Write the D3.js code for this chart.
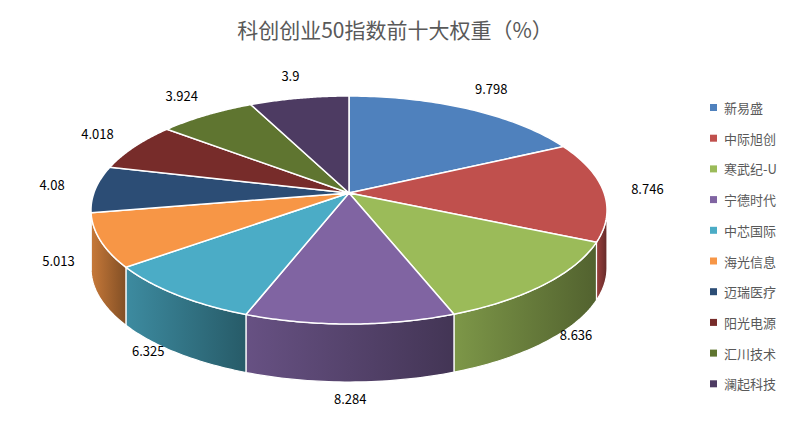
<!DOCTYPE html><html><head><meta charset="utf-8">
<script src="https://cdn.jsdelivr.net/npm/d3@7"></script>
<style>body{margin:0;background:#fff}</style></head><body>
<svg id="c" width="800" height="428"></svg>
<script>
const categories=["新易盛","中际旭创","寒武纪-U","宁德时代","中芯国际","海光信息","迈瑞医疗","阳光电源","汇川技术","澜起科技"];
const values=[9.798,8.746,8.636,8.284,6.325,5.013,4.08,4.018,3.924,3.9];
const labels=["9.798","8.746","8.636","8.284","6.325","5.013","4.08","4.018","3.924","3.9"];
const colors=["#4F81BD","#C0504D","#9BBB59","#8064A2","#4BACC6","#F79646","#2C4D75","#772C2A","#5F7530","#4D3B62"];
const svg=d3.select("#c");
const F="'Noto Sans CJK SC','Noto Sans',sans-serif";
svg.append("text").attr("x",395).attr("y",38).attr("text-anchor","middle").attr("font-family",F).attr("font-size",21).attr("fill","#595959").text("科创创业50指数前十大权重（%）");
const cx=349,rx=258,ry=114,depth=58;
const top0=210;
const arcs=d3.pie().sort(null)(values);
const P=(a,y0)=>[cx+rx*Math.sin(a),y0-ry*Math.cos(a)];
const defs=svg.append("defs");
arcs.forEach((d,i)=>{
  const g=defs.append("linearGradient").attr("id","g"+i).attr("x1",0).attr("x2",1).attr("y1",0).attr("y2",0);
  const c=d3.color(colors[i]);
  g.append("stop").attr("offset","0%").attr("stop-color",c.darker(0.6));
  g.append("stop").attr("offset","100%").attr("stop-color",c.darker(1.8));
});
const gS=svg.append("g"),gT=svg.append("g");
arcs.forEach((d,i)=>{
  const a0=Math.max(d.startAngle,Math.PI/2),a1=Math.min(d.endAngle,3*Math.PI/2);
  if(a1>a0){
    const n=40;let pts=[];
    for(let k=0;k<=n;k++)pts.push(P(a0+(a1-a0)*k/n,top0));
    for(let k=n;k>=0;k--){const p=P(a0+(a1-a0)*k/n,top0+depth);pts.push(p);}
    gS.append("path").attr("d","M"+pts.map(p=>p.join(",")).join("L")+"Z").attr("fill","url(#g"+i+")").attr("stroke","#fff").attr("stroke-width",1.2);
  }
  const n=60;let pts=[[cx,top0-17]];
  for(let k=0;k<=n;k++)pts.push(P(d.startAngle+(d.endAngle-d.startAngle)*k/n,top0));
  gT.append("path").attr("d","M"+pts.map(p=>p.join(",")).join("L")+"Z").attr("fill",colors[i]).attr("stroke","#fff").attr("stroke-width",1.5);
  const m=(d.startAngle+d.endAngle)/2;
  let lx=cx+rx*1.17*Math.sin(m),ly=top0-ry*1.2*Math.cos(m)+5;
  if(Math.cos(m)<0)ly+=depth*(-Math.cos(m))*0.9;
  svg.append("text").attr("x",lx).attr("y",ly).attr("text-anchor","middle").attr("font-family",F).attr("font-size",13).attr("fill","#000").text(labels[i]);
});
const lg=svg.append("g");
categories.forEach((c,i)=>{
  const y=108+i*30.7;
  lg.append("rect").attr("x",710).attr("y",y-4).attr("width",7).attr("height",7).attr("fill",colors[i]);
  lg.append("text").attr("x",724).attr("y",y+5).attr("font-family",F).attr("font-size",13).attr("fill","#595959").text(c);
});
</script></body></html>
